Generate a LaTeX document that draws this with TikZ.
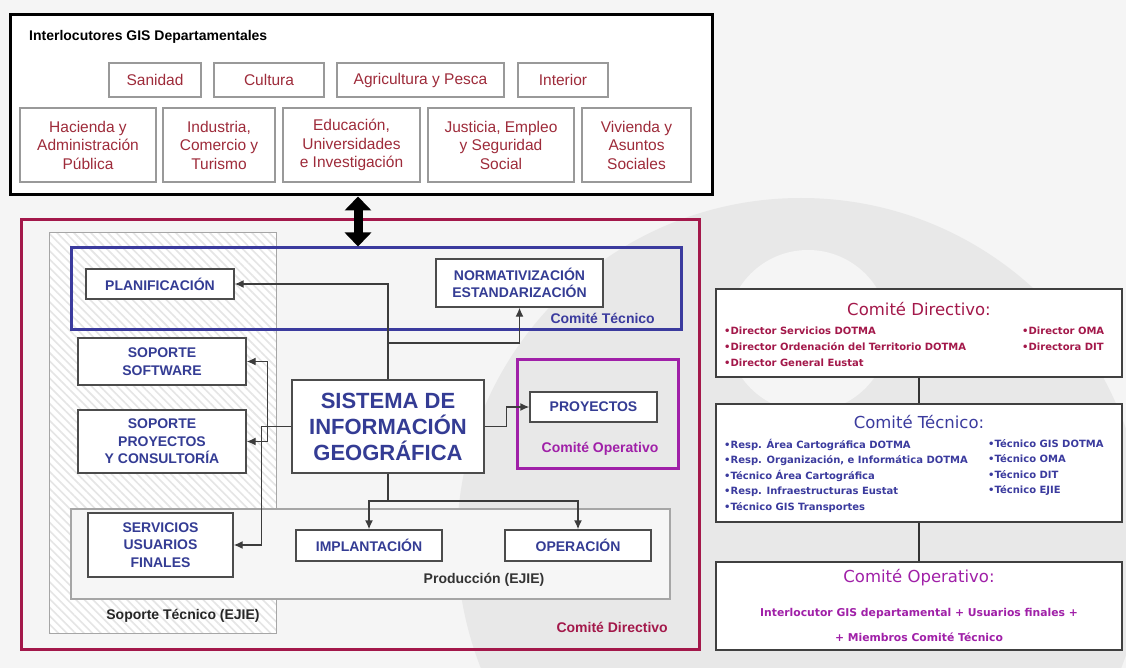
\documentclass[tikz,border=0pt]{standalone}
\usepackage{fontspec}
\setmainfont{Liberation Sans}
\newfontfamily\verdfont{DejaVu Sans}
\usetikzlibrary{arrows.meta,patterns.meta}

\definecolor{deptred}{HTML}{9E2B3A}
\definecolor{dirred}{HTML}{A3184A}
\definecolor{tecblue}{HTML}{3B3B9E}
\definecolor{unitblue}{HTML}{343C94}
\definecolor{opepurple}{HTML}{A020A8}
\definecolor{bggray}{HTML}{F5F5F5}
\definecolor{wmgray}{HTML}{E8E8E8}
\definecolor{connline}{HTML}{3C3C3C}

\tikzset{
  dept/.style={draw=gray!80, line width=1.3pt, fill=white, text=deptred, align=center, inner sep=1pt, font=\fontsize{15.5}{18.5}\selectfont},
  unit/.style={draw=gray!60!black, line width=1.4pt, fill=white, text=unitblue, align=center, inner sep=1pt, font=\bfseries\fontsize{14}{17.5}\selectfont},
  frame/.style={draw, line width=3pt, inner sep=0pt},
  conn/.style={draw=connline, line width=1.4pt, -{Latex[length=9pt,width=8pt]}},
  tag/.style={font=\bfseries\fontsize{14}{16}\selectfont, inner sep=0pt},
  commbox/.style={draw=gray!50!black, line width=1.4pt, fill=white, inner sep=0pt},
  commtitle/.style={font=\verdfont\fontsize{16.5}{19}\selectfont, inner sep=0pt},
  commitem/.style={font=\verdfont\bfseries\fontsize{10}{16}\selectfont, align=left, inner sep=0pt, anchor=north west}
}

\begin{document}
\begin{tikzpicture}[x=1pt, y=-1pt]

    % Background with watermark
    \fill[bggray] (0,0) rectangle (1126,668);
    \begin{scope}
        \clip (0,0) rectangle (1126,668);
        \fill[wmgray] (801,542) circle (344);
        \fill[bggray] (808,331) circle (81);
    \end{scope}
    \useasboundingbox (0,0) rectangle (1126,668);

    % Interlocutores GIS departamentales
    \node[frame, fill=white, minimum width=702pt, minimum height=180pt] (depts) at (361,105) {};
    \node[tag, anchor=west] (deptstitle) at (29,37) {Interlocutores GIS Departamentales};

    \foreach \nm/\cx/\bw/\txt in {sanidad/155/92/Sanidad, cultura/269/110/Cultura,
        agricultura/420.5/167/{Agricultura y Pesca}, interior/563/90/Interior}
        \node[dept, minimum width=\bw pt, minimum height=34pt] (\nm) at (\cx,80) {\txt};

    \foreach \nm/\cx/\bw/\txt in {hacienda/88/136/{Hacienda y\\Administración\\Pública},
        industria/219/112/{Industria,\\Comercio y\\Turismo},
        educacion/351.5/137/{Educación,\\Universidades\\e Investigación},
        justicia/501/146/{Justicia, Empleo\\y Seguridad\\Social},
        vivienda/636.5/109/{Vivienda y\\Asuntos\\Sociales}}
        \node[dept, minimum width=\bw pt, minimum height=74pt] (\nm) at (\cx,145) {\txt};

    % Frames of the committees
    \node[frame, draw=dirred, minimum width=678pt, minimum height=429pt] (directivo) at (360,434.5) {};
    \node[draw=gray!70, line width=1pt, preaction={fill=white}, pattern={Lines[angle=-45,distance=6pt,line width=1.6pt]}, pattern color=gray!20, minimum width=227pt, minimum height=400pt, inner sep=0pt] (soporte) at (162.5,433) {};
    \node[draw=gray!70, line width=1.2pt, fill=gray!7, minimum width=599pt, minimum height=90pt, inner sep=0pt] (produccion) at (370.5,554) {};
    \node[frame, draw=tecblue, minimum width=610pt, minimum height=81pt] (tecnico) at (376,288.5) {};
    \node[frame, draw=opepurple, minimum width=161pt, minimum height=109pt] (operativo) at (597.5,413.5) {};

    % Link between both blocks
    \coordinate (link) at (358,0);
    \draw[line width=9pt, {Triangle[length=14pt,width=26pt]}-{Triangle[length=14pt,width=26pt]}] (depts.south -| link) -- (tecnico.north -| link);

    % Frame labels
    \node[tag, text=tecblue, anchor=east] (tecnicolabel) at (655,318) {Comité Técnico};
    \node[tag, text=opepurple] (operativolabel) at (600,449) {Comité Operativo};
    \node[tag, text=black!80] (produccionlabel) at (484,580) {Producción (EJIE)};
    \node[tag, text=black!85] (soportelabel) at (183,616) {Soporte Técnico (EJIE)};
    \node[tag, text=dirred, anchor=east] (directivolabel) at (668,627) {Comité Directivo};

    % Units
    \node[unit, minimum width=148pt, minimum height=30pt] (planif) at (160,284) {PLANIFICACIÓN};
    \node[unit, minimum width=167pt, minimum height=48pt] (normat) at (519.5,283) {NORMATIVIZACIÓN\\ESTANDARIZACIÓN};
    \node[unit, minimum width=168pt, minimum height=47pt] (softw) at (162,361.5) {SOPORTE\\SOFTWARE};
    \node[unit, minimum width=168pt, minimum height=63pt] (proysop) at (162,441.5) {SOPORTE\\PROYECTOS\\Y CONSULTORÍA};
    \node[unit, minimum width=192pt, minimum height=93pt, font=\bfseries\fontsize{22}{26}\selectfont] (sig) at (388,426.5) {SISTEMA DE\\INFORMACIÓN\\GEOGRÁFICA};
    \node[unit, minimum width=127pt, minimum height=30pt] (proyectos) at (593.5,407) {PROYECTOS};
    \node[unit, minimum width=145pt, minimum height=64pt] (servicios) at (160.5,545) {SERVICIOS\\USUARIOS\\FINALES};
    \node[unit, minimum width=146pt, minimum height=31pt] (implant) at (369,545.5) {IMPLANTACIÓN};
    \node[unit, minimum width=146pt, minimum height=31pt] (operacion) at (578,545.5) {OPERACIÓN};

    % Connectors
    \coordinate (split) at (388,343);
    \coordinate (fork) at (388,501);
    \draw[conn] (sig.north) |- (planif.east);
    \draw[conn] (split) -| (normat.south);
    \draw[conn] (sig.east) -- ++(22,0) |- (proyectos.west);
    \draw[conn] (sig.west) -- ++(-24,0) |- (softw.east);
    \draw[conn] (sig.west) -- ++(-24,0) |- (proysop.east);
    \draw[conn] (sig.west) -- ++(-30,0) |- (servicios.east);
    \draw[conn] (sig.south) -- (fork) -| (implant.north);
    \draw[conn] (fork) -| (operacion.north);

    % Committee members
    \node[commbox, minimum width=406pt, minimum height=88pt] (cdir) at (919,333) {};
    \node[commbox, minimum width=406pt, minimum height=118pt] (ctec) at (919,463) {};
    \node[commbox, minimum width=406pt, minimum height=88pt] (cope) at (919,606) {};
    \draw[line width=1.4pt, gray!40!black] (cdir.south) -- (ctec.north);
    \draw[line width=1.4pt, gray!40!black] (ctec.south) -- (cope.north);

    \node[commtitle, text=dirred] (cdirtitle) at (919,309) {Comité Directivo:};
    \node[commitem, text=dirred] (cdirleft) at (724,327) {•Director Servicios DOTMA\\•Director Ordenación del Territorio DOTMA\\•Director General Eustat};
    \node[commitem, text=dirred] (cdirright) at (1022,327) {•Director OMA\\•Directora DIT};

    \node[commtitle, text=tecblue] (ctectitle) at (919,422) {Comité Técnico:};
    \node[commitem, text=tecblue, font=\verdfont\bfseries\fontsize{10}{15.5}\selectfont] (ctecleft) at (724,439) {•Resp. Área Cartográfica DOTMA\\•Resp. Organización, e Informática DOTMA\\•Técnico Área Cartográfica\\•Resp. Infraestructuras Eustat\\•Técnico GIS Transportes};
    \node[commitem, text=tecblue, font=\verdfont\bfseries\fontsize{10}{15.5}\selectfont] (ctecright) at (988,439) {•Técnico GIS DOTMA\\•Técnico OMA\\•Técnico DIT\\•Técnico EJIE};

    \node[commtitle, text=opepurple] (copetitle) at (919,578) {Comité Operativo:};
    \node[commitem, text=opepurple, anchor=center, font=\verdfont\bfseries\fontsize{10.8}{16}\selectfont] (copeline1) at (919,614) {Interlocutor GIS departamental + Usuarios finales +};
    \node[commitem, text=opepurple, anchor=center, font=\verdfont\bfseries\fontsize{10.8}{16}\selectfont] (copeline2) at (919,637) {+ Miembros Comité Técnico};

\end{tikzpicture}
\end{document}
